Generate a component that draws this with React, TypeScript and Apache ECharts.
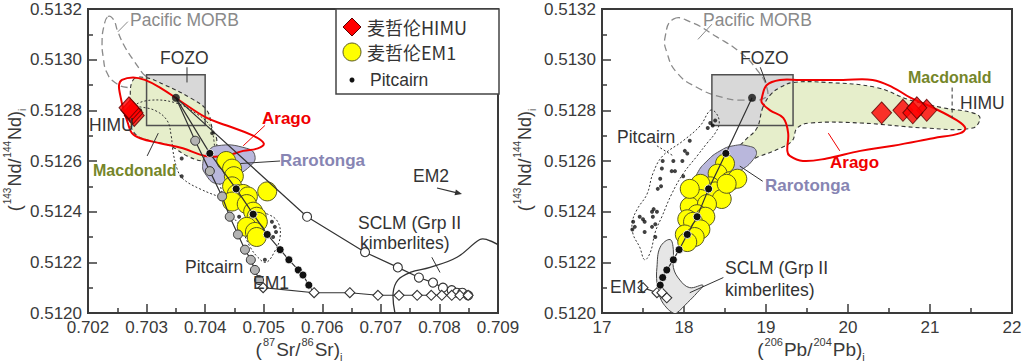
import React, { useEffect, useRef } from "react";
import * as echarts from "echarts";

// ---------------- Left panel: (87Sr/86Sr)i vs (143Nd/144Nd)i ----------------
const SR_TICKS = { min: 0.702, max: 0.709, interval: 0.001 };
const ND_TICKS = { min: 0.512, max: 0.5132, interval: 0.0002 };
const PB_TICKS = { min: 17, max: 22, interval: 1 };

const FOZO_SR = [0.703, 0.704];
const FOZO_ND = [0.51274, 0.51294];
const FOZO_PB = [18.34, 19.33];

const SR_MORB = [[0.70234,0.51317],[0.70243,0.51316],[0.70251,0.51311],[0.70263,0.51305],[0.70277,0.51300],[0.70292,0.51295],[0.70301,0.51292],[0.70289,0.51290],[0.70268,0.51289],[0.70246,0.51291],[0.70232,0.51295],[0.70226,0.51301],[0.70224,0.51307],[0.70227,0.51313]];
const SR_MACDONALD = [[0.70277,0.51292],[0.70297,0.51293],[0.70331,0.51290],[0.70374,0.51285],[0.70403,0.51280],[0.70412,0.51273],[0.70420,0.51268],[0.70413,0.51261],[0.70396,0.51260],[0.70369,0.51262],[0.70340,0.51266],[0.70306,0.51268],[0.70284,0.51270],[0.70273,0.51274],[0.70272,0.51284]];
const SR_ARAGO = [[0.70258,0.51292],[0.70277,0.51293],[0.70297,0.51292],[0.70323,0.51289],[0.70362,0.51283],[0.70403,0.51277],[0.70437,0.51274],[0.70482,0.51270],[0.70500,0.51267],[0.70490,0.51265],[0.70465,0.51264],[0.70434,0.51262],[0.70400,0.51262],[0.70362,0.51265],[0.70323,0.51267],[0.70289,0.51269],[0.70275,0.51271],[0.70268,0.51275],[0.70261,0.51280],[0.70255,0.51286],[0.70253,0.51290]];
const SR_RAROTONGA = [[0.70420,0.51266],[0.70471,0.51265],[0.70485,0.51262],[0.70477,0.51258],[0.70442,0.51253],[0.70420,0.51251],[0.70400,0.51255],[0.70396,0.51259],[0.70403,0.51263]];
const SR_PITCAIRN_FIELD = [[0.70282,0.51282],[0.70314,0.51280],[0.70335,0.51276],[0.70342,0.51270],[0.70345,0.51264],[0.70352,0.51257],[0.70362,0.51253],[0.70391,0.51249],[0.70434,0.51245],[0.70477,0.51241],[0.70507,0.51239],[0.70524,0.51236],[0.70528,0.51230],[0.70518,0.51224],[0.70504,0.51220],[0.70490,0.51222],[0.70477,0.51226],[0.70460,0.51234],[0.70439,0.51241],[0.70425,0.51251],[0.70417,0.51260],[0.70415,0.51268],[0.70408,0.51274],[0.70383,0.51279],[0.70349,0.51283],[0.70306,0.51284]];
const SR_SCLM = [[0.70724,0.51200],[0.70721,0.51208],[0.70729,0.51213],[0.70750,0.51216],[0.70784,0.51218],[0.70830,0.51222],[0.70869,0.51229],[0.70881,0.51229],[0.70900,0.51227]];

const SR_FOZO_POINT = [[0.70350, 0.51285]];
const SR_HIMU = [[0.70279,0.51278],[0.70277,0.51279],[0.70273,0.51280],[0.70270,0.51281]];
const SR_EM1 = [[0.70436,0.51260],[0.70446,0.51257],[0.70449,0.51254],[0.70446,0.51250],[0.70454,0.51247],[0.70465,0.51247],[0.70473,0.51246],[0.70446,0.51244],[0.70471,0.51243],[0.70482,0.51240],[0.70488,0.51238],[0.70490,0.51236],[0.70471,0.51234],[0.70485,0.51232],[0.70488,0.51230],[0.70506,0.51248]];
const SR_PITCAIRN = [[0.70289,0.51280],[0.70412,0.51271],[0.70360,0.51261],[0.70360,0.51254],[0.70458,0.51238],[0.70514,0.51236],[0.70519,0.51234],[0.70521,0.51232],[0.70516,0.51230],[0.70502,0.51221]];

const SR_MIX_EM2 = [[0.70350,0.51285],[0.70574,0.51238],[0.70673,0.51224],[0.70729,0.51218],[0.70765,0.51214],[0.70789,0.51212],[0.70806,0.51210],[0.70821,0.51209],[0.70830,0.51208],[0.70839,0.51208],[0.70849,0.51207]];
const SR_MIX_BLACK = [[0.70350,0.51285],[0.70408,0.51263],[0.70453,0.51249],[0.70482,0.51239],[0.70506,0.51231],[0.70528,0.51225],[0.70543,0.51221],[0.70559,0.51217],[0.70567,0.51215],[0.70577,0.51211],[0.70586,0.51208]];
const SR_MIX_GRAY = [[0.70350,0.51285],[0.70383,0.51268],[0.70408,0.51256],[0.70429,0.51246],[0.70442,0.51238],[0.70456,0.51231],[0.70468,0.51225],[0.70478,0.51221],[0.70485,0.51217],[0.70492,0.51213],[0.70499,0.51210]];
const SR_MIX_SCLM = [[0.70499,0.51210],[0.70586,0.51208],[0.70647,0.51208],[0.70695,0.51207],[0.70731,0.51207],[0.70762,0.51207],[0.70786,0.51207],[0.70804,0.51207],[0.70821,0.51207],[0.70835,0.51207],[0.70849,0.51207]];

const SR_LEAD_MORB = [[0.70251,0.51311],[0.70268,0.51315]];
const SR_LEAD_FOZO = [[0.70369,0.51297],[0.70369,0.51291]];
const SR_LEAD_ARAGO = [[0.70465,0.51266],[0.70502,0.51274]];
const SR_LEAD_RARO = [[0.70460,0.51259],[0.70528,0.51260]];
const SR_LEAD_MAC = [[0.70320,0.51271],[0.70301,0.51262]];
const SR_LEAD_SCLM = [[0.70787,0.51222],[0.70801,0.51216]];

// ---------------- Right panel: (206Pb/204Pb)i vs (143Nd/144Nd)i ----------------
const PB_MORB = [[17.87,0.51316],[18.07,0.51315],[18.40,0.51309],[18.68,0.51303],[18.89,0.51296],[19.01,0.51289],[18.99,0.51285],[18.72,0.51284],[18.48,0.51285],[18.16,0.51289],[17.91,0.51295],[17.79,0.51303],[17.77,0.51309]];
const PB_MACDONALD = [[18.96,0.51281],[19.05,0.51286],[19.17,0.51289],[19.33,0.51291],[19.74,0.51291],[20.35,0.51289],[20.76,0.51284],[21.16,0.51281],[21.52,0.51279],[21.61,0.51277],[21.52,0.51273],[20.96,0.51273],[20.15,0.51275],[19.54,0.51275],[19.38,0.51273],[19.32,0.51268],[19.17,0.51265],[18.93,0.51262],[18.74,0.51260],[18.65,0.51264],[18.74,0.51268],[18.89,0.51273]];
const PB_ARAGO = [[18.95,0.51285],[19.01,0.51290],[19.17,0.51292],[19.41,0.51292],[19.94,0.51292],[20.30,0.51292],[20.55,0.51289],[20.76,0.51285],[21.04,0.51281],[21.33,0.51276],[21.43,0.51273],[21.37,0.51271],[21.04,0.51269],[20.55,0.51266],[20.15,0.51264],[19.74,0.51261],[19.45,0.51260],[19.29,0.51262],[19.26,0.51264],[19.27,0.51271],[19.21,0.51277],[19.05,0.51280],[18.95,0.51283]];
const PB_RAROTONGA = [[18.10,0.51249],[18.16,0.51255],[18.28,0.51260],[18.44,0.51264],[18.60,0.51266],[18.77,0.51266],[18.88,0.51264],[18.83,0.51260],[18.68,0.51256],[18.50,0.51252],[18.32,0.51248],[18.17,0.51246]];
const PB_PITCAIRN_FIELD = [[18.32,0.51280],[18.39,0.51279],[18.43,0.51275],[18.38,0.51271],[18.28,0.51267],[18.16,0.51262],[17.99,0.51255],[17.85,0.51247],[17.73,0.51238],[17.65,0.51232],[17.59,0.51224],[17.52,0.51221],[17.46,0.51226],[17.38,0.51231],[17.37,0.51236],[17.43,0.51241],[17.55,0.51247],[17.62,0.51255],[17.74,0.51262],[17.99,0.51268],[18.20,0.51274]];
const PB_SCLM = [[17.83,0.51229],[17.87,0.51225],[17.87,0.51218],[17.95,0.51213],[18.07,0.51210],[18.23,0.51211],[18.16,0.51208],[18.04,0.51204],[17.91,0.51200],[17.87,0.51200],[17.79,0.51202],[17.71,0.51206],[17.67,0.51212],[17.67,0.51218],[17.71,0.51226]];

const PB_FOZO_POINT = [[18.83, 0.51285]];
const PB_HIMU = [[20.41,0.51279],[20.96,0.51280],[20.67,0.51280],[20.79,0.51279],[20.84,0.51281]];
const PB_EM1 = [[18.50,0.51259],[18.41,0.51255],[18.56,0.51252],[18.65,0.51253],[18.32,0.51250],[18.20,0.51251],[18.38,0.51248],[18.46,0.51245],[18.20,0.51245],[18.07,0.51242],[18.28,0.51243],[18.16,0.51239],[18.26,0.51238],[18.04,0.51237],[18.11,0.51236],[18.20,0.51233],[18.01,0.51231],[18.13,0.51230],[18.04,0.51228],[18.52,0.51251],[18.07,0.51249]];
const PB_PITCAIRN = [[18.32,0.51275],[18.38,0.51276],[18.29,0.51273],[18.35,0.51274],[18.07,0.51268],[18.01,0.51264],[18.04,0.51263],[17.87,0.51260],[17.98,0.51260],[17.74,0.51260],[17.73,0.51257],[17.85,0.51256],[17.89,0.51256],[17.71,0.51253],[17.99,0.51254],[17.68,0.51249],[17.72,0.51250],[17.61,0.51240],[17.63,0.51241],[17.50,0.51237],[17.38,0.51236],[17.40,0.51234],[17.65,0.51235],[17.37,0.51233],[17.52,0.51232],[17.52,0.51236],[17.62,0.51238],[17.61,0.51234],[17.65,0.51230],[17.67,0.51240],[17.46,0.51238]];

const PB_MIX = [[18.83,0.51285],[18.51,0.51263],[18.30,0.51249],[18.16,0.51238],[18.04,0.51231],[17.94,0.51225],[17.87,0.51221],[17.79,0.51217],[17.74,0.51214],[17.71,0.51211],[17.67,0.51208]];
const PB_MIX_SCLM = [[17.50,0.51210],[17.67,0.51208],[17.73,0.51208],[17.79,0.51206]];

const PB_LEAD_MORB = [[18.17,0.51308],[18.34,0.51314]];
const PB_LEAD_FOZO = [[18.93,0.51297],[19.00,0.51291]];
const PB_LEAD_ARAGO = [[19.76,0.51271],[19.90,0.51264]];
const PB_LEAD_RARO = [[18.68,0.51258],[18.96,0.51252]];
const PB_LEAD_HIMU = [[21.27,0.51289],[21.27,0.51277]];
const PB_LEAD_PIT = [[17.67,0.51266],[17.87,0.51262]];
const PB_LEAD_SCLM = [[18.07,0.51208],[18.48,0.51214]];

// ---------------- styling ----------------
const FONT = '"Liberation Sans", Arial, Helvetica, sans-serif';
const CJK = '"Noto Sans CJK SC", "Liberation Sans", sans-serif';
const AXIS = "#3a3a3a";
const RED = "#f00000";
const LAV_TEXT = "#8785b3";
const OLIVE = "#75862a";
const ANN = `17.5px ${FONT}`;

const rect = (xs: number[], ys: number[]) => [[xs[0], ys[0]], [xs[1], ys[0]], [xs[1], ys[1]], [xs[0], ys[1]]];

const shape = (gi: number, pts: number[][], style: any, z: number, smooth = 0, closed = true) => ({
  type: "custom",
  coordinateSystem: "cartesian2d",
  xAxisIndex: gi,
  yAxisIndex: gi,
  data: [pts[0]],
  z,
  silent: true,
  clip: true,
  renderItem: (_p: any, api: any) => ({
    type: closed ? "polygon" : "polyline",
    shape: { points: pts.map((p) => api.coord(p)), smooth },
    style,
  }),
});

const scatter = (gi: number, data: number[][], symbol: string, size: any, itemStyle: any, z: number) => ({
  type: "scatter",
  xAxisIndex: gi,
  yAxisIndex: gi,
  data,
  symbol,
  symbolSize: size,
  itemStyle,
  z,
  silent: true,
});

const line = (gi: number, pts: number[][], sym: (i: number) => string, size: number, itemStyle: any, lineStyle: any, z: number) => ({
  type: "line",
  xAxisIndex: gi,
  yAxisIndex: gi,
  data: pts.map((p, i) => ({ value: p, symbol: sym(i) })),
  symbolSize: size,
  itemStyle,
  lineStyle,
  z,
  silent: true,
  clip: true,
});

const lead = (gi: number, pts: number[][], color = "#333", dash: any = null) =>
  shape(gi, pts, { fill: "none", stroke: color, lineWidth: 1, lineDash: dash }, 9, 0, false);

const axisCommon = (digits: number) => ({
  type: "value",
  axisLine: { show: true, onZero: false, lineStyle: { color: AXIS, width: 2 } },
  axisTick: { show: true, inside: true, length: 9, lineStyle: { color: AXIS, width: 1.5 } },
  minorTick: { show: true, splitNumber: 2, length: 5, lineStyle: { color: AXIS, width: 1.5 } },
  splitLine: { show: false },
  minorSplitLine: { show: false },
  axisLabel: {
    formatter: (v: number) => v.toFixed(digits),
    fontSize: 17,
    color: AXIS,
    margin: 6,
    fontFamily: FONT,
    showMinLabel: true,
    showMaxLabel: true,
  },
});

const txt = (x: number, y: number, text: string, fill = "#333", font = ANN, extra: any = {}) => ({
  type: "text",
  x,
  y,
  z: 100,
  silent: true,
  style: { text, fill, font, align: "left", verticalAlign: "middle", textAlign: "left", textVerticalAlign: "middle", ...extra },
});

const richName = (x: number, y: number, text: string, main: number, sup: number, rotation = 0) => ({
  type: "text",
  x,
  y,
  rotation,
  z: 100,
  silent: true,
  style: {
    text,
    fill: AXIS,
    font: `${main}px ${FONT}`,
    fontSize: main,
    fontFamily: FONT,
    align: "center",
    verticalAlign: "middle",
    textAlign: "center",
    textVerticalAlign: "middle",
    lineHeight: main + 7,
    rich: {
      n: { fontSize: main, fontFamily: FONT, fill: AXIS, color: AXIS, lineHeight: main + 7, verticalAlign: "middle" },
      s: { fontSize: sup, fontFamily: FONT, fill: AXIS, color: AXIS, lineHeight: main + 7, verticalAlign: "top", padding: [0, 1, 0, 1] },
      b: { fontSize: sup, fontFamily: FONT, fill: AXIS, color: AXIS, lineHeight: main + 7, verticalAlign: "bottom" },
    },
  },
});

function buildPanel(gi: number, d: any) {
  return [
    shape(gi, rect(d.fozoX, FOZO_ND), { fill: "#d8d8d8", stroke: "none" }, 1),
    shape(gi, d.morb, { fill: "none", stroke: "#8a8a8a", lineWidth: 1.3, lineDash: [7, 4] }, 2, 0.5),
    shape(gi, d.mac, { fill: "#e6eecb", stroke: "#333", lineWidth: 1.1, lineDash: [4, 3] }, 2, 0.4),
    shape(gi, rect(d.fozoX, FOZO_ND), { fill: "none", stroke: "#505050", lineWidth: 1.5 }, 3),
    shape(gi, d.pitField, { fill: "none", stroke: "#333", lineWidth: 1, lineDash: [2, 2] }, 3, 0.4),
    shape(gi, d.raro, { fill: "#b9b7dc", stroke: "#555", lineWidth: 1 }, 3, 0.5),
    d.sclmFill
      ? shape(gi, d.sclm, { fill: "#e6e6e6", stroke: "#444", lineWidth: 1 }, 3, 0.4)
      : shape(gi, d.sclm, { fill: "none", stroke: "#333", lineWidth: 1.3 }, 3, 0.4, false),
    shape(gi, d.arago, { fill: "none", stroke: RED, lineWidth: 2 }, 4, 0.4),
    ...d.leads,
    scatter(gi, d.em1, "circle", 19, { color: "#ffff00", borderColor: "#5a5a22", borderWidth: 1, opacity: 1 }, 5),
    ...d.lines,
    scatter(gi, d.pit, "circle", 4, { color: "#111" }, 7),
    scatter(gi, d.fozoPt, "circle", 8, { color: "#111" }, 8),
    scatter(gi, d.himu, "diamond", [20, 22], { color: "#ff0000", borderColor: "#5a0000", borderWidth: 1 }, 9),
  ];
}

const blackDot = { color: "#111", borderColor: "#fff", borderWidth: 0.8 };
const grayDot = { color: "#b3b3b3", borderColor: "#333", borderWidth: 1 };
const openSym = { color: "#fff", borderColor: "#333", borderWidth: 1.1 };
const mixLine = { color: "#333", width: 1.2 };

export default function App() {
  const ref = useRef<HTMLDivElement>(null);
  useEffect(() => {
    if (!ref.current) return;
    const chart = echarts.init(ref.current, null, { renderer: "svg" });

    const left = buildPanel(0, {
      fozoX: FOZO_SR,
      morb: SR_MORB,
      mac: SR_MACDONALD,
      pitField: SR_PITCAIRN_FIELD,
      raro: SR_RAROTONGA,
      sclm: SR_SCLM,
      sclmFill: false,
      arago: SR_ARAGO,
      em1: SR_EM1,
      pit: SR_PITCAIRN,
      fozoPt: SR_FOZO_POINT,
      himu: SR_HIMU,
      leads: [
        lead(0, SR_LEAD_MORB, "#8a8a8a"),
        lead(0, SR_LEAD_FOZO),
        lead(0, SR_LEAD_ARAGO, RED),
        lead(0, SR_LEAD_RARO),
        lead(0, SR_LEAD_MAC),
        lead(0, SR_LEAD_SCLM),
      ],
      lines: [
        line(0, SR_MIX_EM2, (i) => (i === 0 ? "none" : "circle"), 9, openSym, mixLine, 6),
        line(0, SR_MIX_SCLM, () => "diamond", 10, openSym, mixLine, 6),
        line(0, SR_MIX_GRAY, (i) => (i === 0 || i === SR_MIX_GRAY.length - 1 ? "none" : "circle"), 9, grayDot, mixLine, 6),
        line(0, SR_MIX_BLACK, (i) => (i === 0 || i === SR_MIX_BLACK.length - 1 ? "none" : "circle"), 8, blackDot, mixLine, 6),
      ],
    });

    const right = buildPanel(1, {
      fozoX: FOZO_PB,
      morb: PB_MORB,
      mac: PB_MACDONALD,
      pitField: PB_PITCAIRN_FIELD,
      raro: PB_RAROTONGA,
      sclm: PB_SCLM,
      sclmFill: true,
      arago: PB_ARAGO,
      em1: PB_EM1,
      pit: PB_PITCAIRN,
      fozoPt: PB_FOZO_POINT,
      himu: PB_HIMU,
      leads: [
        lead(1, PB_LEAD_MORB, "#8a8a8a"),
        lead(1, PB_LEAD_FOZO),
        lead(1, PB_LEAD_ARAGO, RED),
        lead(1, PB_LEAD_RARO),
        lead(1, PB_LEAD_HIMU, "#333", [4, 3]),
        lead(1, PB_LEAD_PIT, "#333", [2, 2]),
        lead(1, PB_LEAD_SCLM),
      ],
      lines: [
        line(1, PB_MIX_SCLM, () => "diamond", 10, openSym, mixLine, 6),
        line(1, PB_MIX, (i) => (i === 0 || i === PB_MIX.length - 1 ? "none" : "circle"), 8, blackDot, mixLine, 6),
      ],
    });

    const labels = [
      // left panel annotations
      txt(130, 20, "Pacific MORB", "#8a8a8a"),
      txt(160, 58, "FOZO"),
      txt(89, 125, "HIMU"),
      txt(93, 170, "Macdonald", OLIVE, `bold 16px ${FONT}`),
      txt(262, 118, "Arago", RED, `bold 17px ${FONT}`),
      txt(280, 160, "Rarotonga", LAV_TEXT, `bold 17px ${FONT}`),
      txt(413, 176, "EM2"),
      txt(358, 223, "SCLM (Grp II"),
      txt(360, 243, "kimberlites)"),
      txt(185, 267, "Pitcairn"),
      txt(253, 283, "EM1"),
      // right panel annotations
      txt(703, 20, "Pacific MORB", "#8a8a8a"),
      txt(740, 58, "FOZO"),
      txt(908, 77, "Macdonald", OLIVE, `bold 16px ${FONT}`),
      txt(960, 103, "HIMU"),
      txt(830, 162, "Arago", RED, `bold 17px ${FONT}`),
      txt(765, 185, "Rarotonga", LAV_TEXT, `bold 17px ${FONT}`),
      txt(617, 137, "Pitcairn"),
      txt(725, 268, "SCLM (Grp II"),
      txt(725, 290, "kimberlites)"),
      txt(610, 287, "EM1"),
      // axis names
      richName(299, 349, "({s|87}{n|Sr/}{s|86}{n|Sr)}{b|i}", 19, 11),
      richName(811, 349, "({s|206}{n|Pb/}{s|204}{n|Pb)}{b|i}", 19, 11),
      richName(15, 160, "({s|143}{n|Nd/}{s|144}{n|Nd)}{b|i}", 18, 10, Math.PI / 2),
      richName(525, 160, "({s|143}{n|Nd/}{s|144}{n|Nd)}{b|i}", 18, 10, Math.PI / 2),
      // EM2 arrow
      { type: "line", z: 100, silent: true, shape: { x1: 437, y1: 188, x2: 456, y2: 192.6 }, style: { stroke: "#333", lineWidth: 1.2 } },
      { type: "polygon", z: 100, silent: true, shape: { points: [[462, 194], [454.5, 195.2], [455.9, 189.4]] }, style: { fill: "#333" } },
      // legend
      { type: "rect", z: 90, silent: true, shape: { x: 336, y: 9, width: 163, height: 85 }, style: { fill: "#fff", stroke: "#444", lineWidth: 1.5 } },
      { type: "polygon", z: 100, silent: true, shape: { points: [[352, 18], [361, 27], [352, 36], [343, 27]] }, style: { fill: "#ff0000", stroke: "#5a0000", lineWidth: 1 } },
      { type: "circle", z: 100, silent: true, shape: { cx: 352, cy: 52, r: 9 }, style: { fill: "#ffff00", stroke: "#5a5a22", lineWidth: 1 } },
      { type: "circle", z: 100, silent: true, shape: { cx: 352, cy: 80, r: 2.5 }, style: { fill: "#111" } },
      txt(367, 27, "麦哲伦HIMU", "#333", `18px ${CJK}`),
      txt(367, 52, "麦哲伦EM1", "#333", `18px ${CJK}`),
      txt(370, 80, "Pitcairn"),
    ];

    const grids = [
      { left: 88, top: 9, width: 410, height: 304 },
      { left: 602, top: 9, width: 410, height: 304 },
    ].map((g) => ({ ...g, show: true, borderColor: AXIS, borderWidth: 2, backgroundColor: "transparent", containLabel: false, outerBoundsMode: "none" }));

    chart.setOption({
      animation: false,
      backgroundColor: "#fff",
      textStyle: { fontFamily: FONT },
      grid: grids,
      xAxis: [
        { ...axisCommon(3), gridIndex: 0, ...SR_TICKS },
        { ...axisCommon(0), gridIndex: 1, ...PB_TICKS },
      ],
      yAxis: [
        { ...axisCommon(4), gridIndex: 0, ...ND_TICKS },
        { ...axisCommon(4), gridIndex: 1, ...ND_TICKS },
      ],
      series: [...left, ...right],
      graphic: { elements: labels },
    });
    return () => chart.dispose();
  }, []);
  return <div ref={ref} style={{ position: "absolute", left: 0, top: 0, width: 1024, height: 364 }} />;
}
